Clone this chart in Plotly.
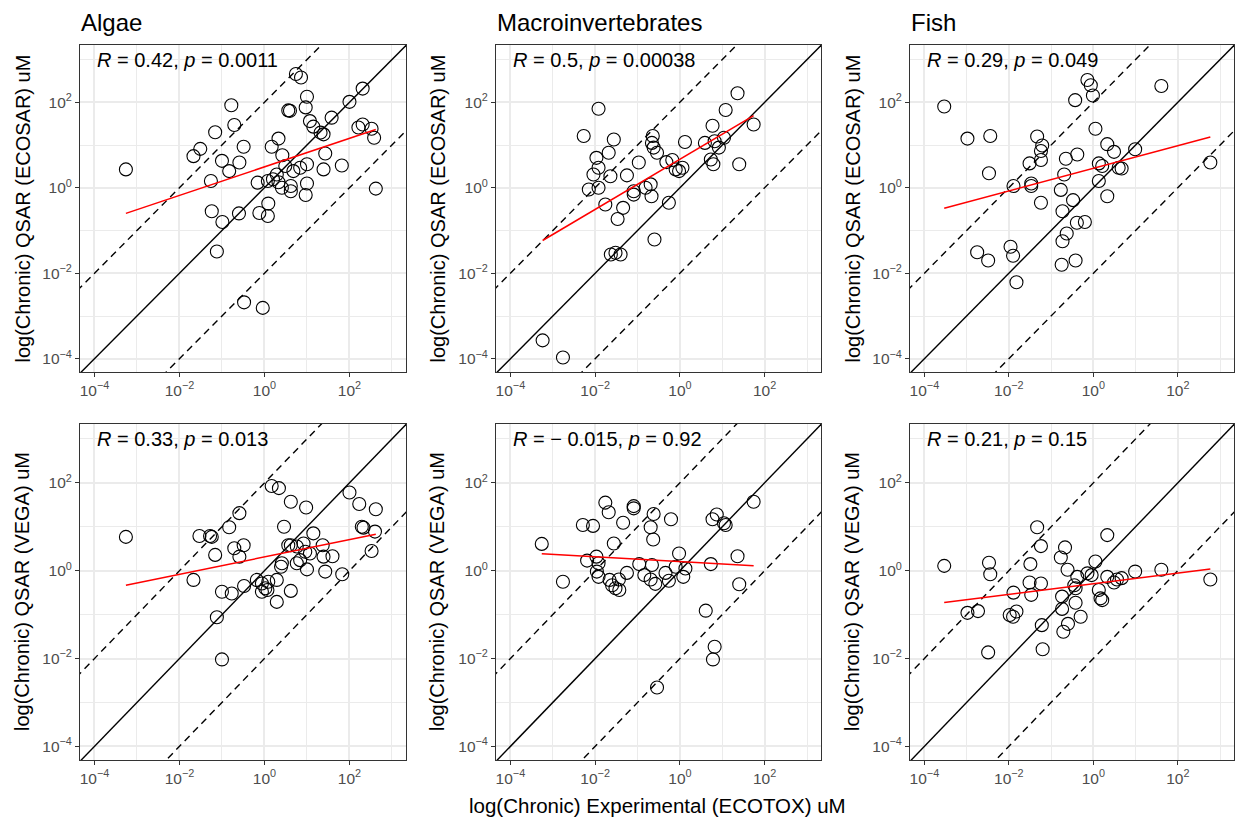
import numpy as np
import plotly.graph_objects as go

W, H = 1236, 818

taxa = ["Algae", "Macroinvertebrates", "Fish"]
models = ["ECOSAR", "VEGA"]

# ---- data (log10 of uM) ----
algae_ecosar_x = [-3.26, -0.78, -0.71, -1.16, -1.51, -1.67, -0.49, -1.00, -0.59, -0.83, -1.26, -1.24, -0.99, -0.60,
                  -1.12, -0.48, -0.04, -0.12, 0.09, 0.08, -0.16, 0.08, 0.20, 0.29, 0.17, 0.33, 0.42, 0.49, 0.62, 0.62,
                  0.68, 0.84, 1.00, 1.00, 0.97, 1.39, 1.43, 1.39, 1.32, 1.07, 1.15, 1.58, 0.56, 0.60, 0.97, 1.00,
                  0.74, 0.86, 2.00, 2.31, 2.21, 2.31, 2.52, 2.58, 2.62, 1.82, 0.33, 0.41]
algae_ecosar_y = [0.43, 1.93, 1.47, 1.30, 0.91, 0.74, 0.96, 0.63, 0.59, 0.39, 0.16, -0.55, -0.80, -0.60,
                  -1.49, -2.68, -2.81, -0.59, -0.37, -0.66, 0.12, 0.16, 0.20, 0.31, 0.96, 1.15, 0.76, 0.51, 0.04, -0.08,
                  0.39, 0.47, 0.55, 0.10, -0.17, 0.43, 0.80, 1.25, 1.29, 1.56, 1.43, 1.64, 1.81, 1.80, 1.88, 2.13,
                  2.66, 2.58, 2.01, 2.32, 1.41, 1.48, 1.38, 1.17, -0.02, 0.52, 0.13, 0.00]

macro_ecosar_x = [-3.24, -2.76, -1.92, -2.27, -1.56, -1.97, -1.68, -1.92, -2.04, -1.64, -2.15, -1.92, -1.76, -1.34,
                  -1.47, -1.25, -0.97, -1.09, -1.09, -0.81, -0.69, -0.67, -0.64, -0.66, -0.62, -0.54, -0.32, -0.18,
                  -0.10, -0.02, 0.06, -0.26, -0.60, -1.63, -1.52, -1.40, 0.12, 0.59, 0.77, 0.82, 0.92, 1.04, 0.73,
                  0.79, 1.08, 1.36, 1.74, 1.40]
macro_ecosar_y = [-3.57, -3.97, 1.85, 1.21, 1.13, 0.70, 0.82, 0.47, 0.31, 0.27, -0.04, 0.00, -0.39, -0.47,
                  -0.73, 0.29, 0.59, -0.08, -0.16, 0.00, 0.08, -0.20, 1.21, 1.05, 0.94, 0.82, 0.60, 0.65,
                  0.43, 0.39, 0.47, -0.35, -1.21, -1.56, -1.52, -1.56, 1.07, 1.05, 1.45, 1.09, 0.94, 1.17, 0.66,
                  0.55, 1.82, 2.21, 1.48, 0.55]

fish_ecosar_x = [-3.53, -2.98, -2.44, -2.47, -2.75, -2.49, -1.96, -1.90, -1.82, -1.89, -1.51, -1.47, -1.47, -1.33,
                 -1.21, -1.24, -1.24, -1.24, -0.77, -0.69, -0.65, -0.38, -0.48, -0.73, -0.63, -0.73, -0.75, -0.42,
                 -0.39, -0.20, -0.43, -0.14, -0.06, -0.01, 0.05, 0.13, 0.21, 0.13, 0.33, 0.33, 0.49, 0.60, 0.67,
                 0.99, 1.61, 2.77]
fish_ecosar_y = [1.90, 1.15, 1.21, 0.34, -1.51, -1.70, -1.38, -1.59, -2.21, 0.04, 0.57, 0.10, 0.04, 1.20,
                 0.99, 0.86, 0.65, -0.35, -0.05, 0.31, 0.68, 0.78, -0.29, -0.55, -1.07, -1.25, -1.80, -1.70,
                 -0.82, -0.80, 2.05, 2.52, 2.40, 2.16, 1.38, 0.57, 0.51, 0.16, -0.20, 1.02, 0.84, 0.47, 0.45,
                 0.90, 2.38, 0.59]

algae_vega_x = [-3.26, -1.53, -1.28, -1.24, -0.83, -0.59, -1.16, -0.71, -0.49, -0.59, -1.67, -1.00, -0.77, -0.48,
                -1.12, -1.00, -0.18, -0.06, 0.02, 0.09, -0.06, 0.07, 0.29, 0.29, 0.62, 0.39, 0.41, 0.46, 0.17,
                0.34, 0.62, 0.98, 0.56, 0.62, 0.76, 0.92, 0.96, 1.07, 0.84, 1.00, 1.15, 1.37, 1.39, 1.60, 1.43,
                1.83, 2.00, 2.23, 2.29, 2.33, 2.62, 2.60, 2.52, 0.76]
algae_vega_y = [0.77, 0.79, 0.79, 0.77, 0.99, 1.31, 0.36, 0.51, 0.58, 0.32, -0.21, -0.48, -0.52, -0.35,
                -1.06, -2.02, -0.21, -0.29, -0.40, -0.25, -0.48, -0.44, -0.21, -0.71, -0.46, 0.09, 0.17, 1.00, 1.93,
                1.88, 1.57, 1.44, 0.58, 0.58, 0.55, 0.62, 0.43, 0.39, 0.24, 0.03, 0.85, 0.58, 0.32, 0.33, -0.02,
                -0.08, 1.78, 1.52, 1.00, 0.98, 1.40, 0.89, 0.45, 0.17]

macro_vega_x = [-3.26, -2.76, -2.29, -2.05, -1.76, -1.68, -1.56, -1.34, -1.09, -1.09, -0.62, -0.69, -0.63, -0.21,
                -2.19, -1.97, -1.92, -1.96, -1.92, -1.66, -1.60, -1.52, -1.43, -1.44, -1.25, -0.96, -0.84, -0.66,
                -0.69, -0.58, -0.34, -0.26, -0.10, -0.02, 0.08, 0.13, 0.73, 0.77, 0.87, 1.04, 1.08, 1.36, 1.40,
                1.74, 0.61, 0.82, 0.78, -0.54]
macro_vega_y = [0.61, -0.25, 1.04, 1.02, 1.55, 1.33, 0.62, 1.09, 1.42, 1.47, 1.29, 0.99, 0.71, 1.17,
                0.23, 0.32, 0.17, -0.02, -0.14, -0.21, -0.33, -0.40, -0.44, -0.20, -0.05, 0.15, -0.10, 0.13,
                -0.20, -0.30, -0.05, -0.23, 0.09, 0.39, -0.14, 0.05, 0.15, 1.17, 1.28, 1.08, 1.04, 0.33, -0.31,
                1.57, -0.91, -1.73, -2.02, -2.66]

fish_vega_x = [-3.53, -2.47, -2.44, -2.49, -2.98, -2.73, -1.98, -1.90, -1.82, -1.89, -1.49, -1.51, -1.47, -1.24,
               -1.33, -1.24, -1.22, -1.20, -0.77, -0.67, -0.61, -0.74, -0.74, -0.60, -0.71, -0.42, -0.30, -0.45,
               -0.42, -0.38, -0.14, -0.04, 0.05, 0.13, 0.17, 0.21, 0.33, 0.49, 0.56, 0.67, 0.33, 0.99, 1.61, 2.77]
fish_vega_y = [0.11, 0.18, -0.08, -1.86, -0.96, -0.92, -1.01, -1.05, -0.93, -0.50, 0.15, -0.27, -0.55, -0.29,
               0.99, 0.56, -1.24, -1.79, 0.30, 0.53, 0.02, -0.59, -0.87, -1.21, -1.39, -0.73, -1.05, -0.33,
               -0.40, -0.14, -0.06, -0.10, 0.21, -0.44, -0.63, -0.67, -0.14, -0.27, -0.20, -0.17, 0.81, -0.02, 0.02, -0.20]

stat_labels = [
    ["<i>R</i> = 0.42, <i>p</i> = 0.0011", "<i>R</i> = 0.5, <i>p</i> = 0.00038", "<i>R</i> = 0.29, <i>p</i> = 0.049"],
    ["<i>R</i> = 0.33, <i>p</i> = 0.013", "<i>R</i> = − 0.015, <i>p</i> = 0.92", "<i>R</i> = 0.21, <i>p</i> = 0.15"],
]

panels = [
    [(algae_ecosar_x, algae_ecosar_y), (macro_ecosar_x, macro_ecosar_y), (fish_ecosar_x, fish_ecosar_y)],
    [(algae_vega_x, algae_vega_y), (macro_vega_x, macro_vega_y), (fish_vega_x, fish_vega_y)],
]

tick_vals = [1e-4, 1e-2, 1, 1e2]
tick_text = ["10<sup>−4</sup>", "10<sup>−2</sup>", "10<sup>0</sup>", "10<sup>2</sup>"]
minor_vals = [1e-3, 1e-1, 1e1, 1e3]
ref_offsets = [0, 2, -2]   # y = x, y = 100x, y = x/100 (log10 offsets)

x_rng = [-4.34, 3.33]
y_rng = [-4.31, 3.34]

# pixel layout
col_px = [(80, 406), (496, 821), (910, 1234)]
row_px = [(45, 372), (424, 760)]
ytitle_px = [22, 437, 852]


def fx(px):
    return px / W


def fy(py):
    return 1 - py / H


fig = go.Figure()
annotations = []
FONT = "Liberation Sans, Arial, Helvetica, sans-serif"

axis_common = dict(
    type="log", showline=True, mirror=True, linecolor="#333333", linewidth=1,
    ticks="outside", ticklen=4, tickcolor="#333333", tickwidth=1,
    showgrid=True, gridcolor="#EBEBEB", gridwidth=1.6, zeroline=False,
    tickmode="array", tickvals=tick_vals, ticktext=tick_text,
    tickfont=dict(size=15.5, color="#4D4D4D", family=FONT),
    minor=dict(tickmode="array", tickvals=minor_vals, showgrid=True, gridcolor="#EBEBEB",
               gridwidth=0.8, ticks=""),
)

span = np.array([-6.0, 6.0])

for r in range(2):
    for c in range(3):
        k = r * 3 + c + 1
        xa = "x" if k == 1 else f"x{k}"
        ya = "y" if k == 1 else f"y{k}"
        lx = np.array(panels[r][c][0])
        ly = np.array(panels[r][c][1])

        fig.add_trace(go.Scatter(
            x=10 ** lx, y=10 ** ly, mode="markers", xaxis=xa, yaxis=ya,
            marker=dict(symbol="circle-open", size=13, color="black", line=dict(width=1.1, color="black")),
            showlegend=False, hoverinfo="x+y"))

        for off in ref_offsets:
            fig.add_trace(go.Scatter(
                x=10 ** span, y=10 ** (span + off), mode="lines", xaxis=xa, yaxis=ya,
                line=dict(color="black", width=1.4, dash="solid" if off == 0 else "7px,5px"),
                showlegend=False, hoverinfo="skip"))

        slope, intercept = np.polyfit(lx, ly, 1)
        fit_x = np.array([lx.min(), lx.max()])
        fig.add_trace(go.Scatter(
            x=10 ** fit_x, y=10 ** (intercept + slope * fit_x), mode="lines", xaxis=xa, yaxis=ya,
            line=dict(color="#FF0000", width=1.5), showlegend=False, hoverinfo="skip"))

        x0, x1 = col_px[c]
        y0, y1 = row_px[r]
        fig.update_layout(**{
            ("xaxis" if k == 1 else f"xaxis{k}"): dict(axis_common, domain=[fx(x0), fx(x1)], range=x_rng,
                                                      anchor=ya),
            ("yaxis" if k == 1 else f"yaxis{k}"): dict(axis_common, domain=[fy(y1), fy(y0)], range=y_rng,
                                                      anchor=xa),
        })

        annotations.append(dict(
            x=fx(x0 + 15), y=fy(y0 + 15), xref="paper", yref="paper", xanchor="left", yanchor="middle",
            text=stat_labels[r][c], showarrow=False, font=dict(size=20, color="black", family=FONT)))

        annotations.append(dict(
            x=fx(ytitle_px[c]), y=fy((y0 + y1) / 2), xref="paper", yref="paper", xanchor="center",
            yanchor="middle", textangle=-90, text=f"log(Chronic) QSAR ({models[r]}) uM", showarrow=False,
            font=dict(size=20, color="black", family=FONT)))

for c in range(3):
    annotations.append(dict(
        x=fx(col_px[c][0] - 1), y=fy(22.5), xref="paper", yref="paper", xanchor="left", yanchor="middle",
        text=taxa[c], showarrow=False, font=dict(size=24, color="black", family=FONT)))

annotations.append(dict(
    x=fx(657), y=fy(805), xref="paper", yref="paper", xanchor="center", yanchor="middle",
    text="log(Chronic) Experimental (ECOTOX) uM", showarrow=False,
    font=dict(size=20.5, color="black", family=FONT)))

fig.update_layout(
    width=W, height=H, margin=dict(l=0, r=0, t=0, b=0),
    paper_bgcolor="white", plot_bgcolor="white",
    annotations=annotations, showlegend=False,
    font=dict(family=FONT),
)

fig.write_html("out.html", config={"displayModeBar": False},
               post_script="document.body.style.margin='0px';")
